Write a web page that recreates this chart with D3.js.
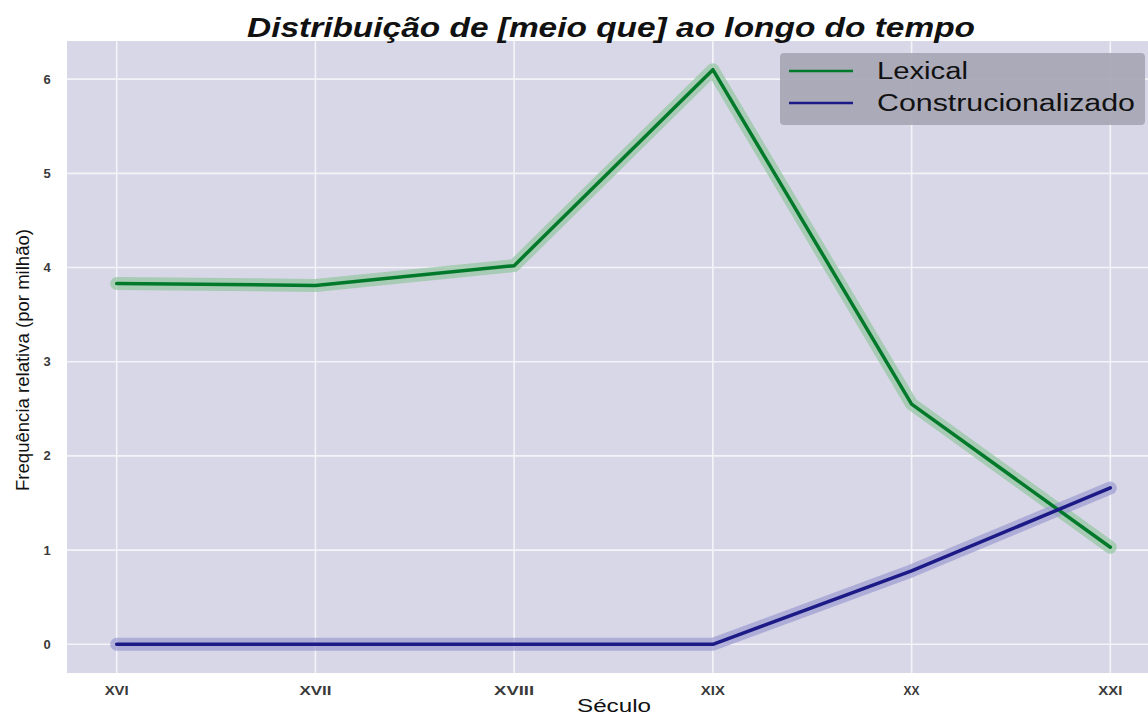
<!DOCTYPE html>
<html>
<head>
<style>
  body { margin: 0; background: #fff; }
  svg { display: block; font-family: "Liberation Sans", Arial, sans-serif; }
</style>
<script src="https://d3js.org/d3.v7.min.js"></script>
</head>
<body>
<script>
var seculos = ["XVI", "XVII", "XVIII", "XIX", "XX", "XXI"];
var lexical = [3.83, 3.81, 4.02, 6.10, 2.55, 1.03];
var construcionalizado = [0, 0, 0, 0, 0.78, 1.66];
var yTicks = [0, 1, 2, 3, 4, 5, 6];
var seriesNames = ["Lexical", "Construcionalizado"];
var seriesColors = ["#007a2a", "#1c1a86"];
var haloColors = ["#93c6a0", "#9d9bd0"];

var W = 1148, H = 718;
var plot = {left: 67, right: 1160, top: 41, bottom: 673};

var svg = d3.select("body").append("svg")
    .attr("width", W).attr("height", H);

var x = d3.scaleLinear().domain([-0.25, 5.25]).range([plot.left, plot.right]);
var y = d3.scaleLinear().domain([-0.305, 6.405]).range([plot.bottom, plot.top]);

svg.append("rect")
    .attr("x", plot.left).attr("y", plot.top)
    .attr("width", plot.right - plot.left).attr("height", plot.bottom - plot.top)
    .attr("fill", "#d8d7e7");

// grid
svg.append("g").selectAll("line").data(seculos).enter().append("line")
    .attr("x1", function(d, i) { return x(i); }).attr("x2", function(d, i) { return x(i); })
    .attr("y1", plot.top).attr("y2", plot.bottom)
    .attr("stroke", "#f4f4f8").attr("stroke-width", 1.6);
svg.append("g").selectAll("line").data(yTicks).enter().append("line")
    .attr("y1", function(d) { return y(d); }).attr("y2", function(d) { return y(d); })
    .attr("x1", plot.left).attr("x2", plot.right)
    .attr("stroke", "#f4f4f8").attr("stroke-width", 1.6);

// tick labels
svg.append("g").selectAll("text").data(seculos).enter().append("text")
    .attr("x", function(d, i) { return x(i); }).attr("y", 695)
    .attr("text-anchor", "middle").attr("font-size", 13).attr("font-weight", "bold")
    .attr("fill", "#3a3a3a").attr("textLength", function(d) { return d.length * 8; })
    .attr("lengthAdjust", "spacingAndGlyphs")
    .text(function(d) { return d; });
svg.append("g").selectAll("text").data(yTicks).enter().append("text")
    .attr("x", 47).attr("y", function(d) { return y(d); }).attr("dy", "0.35em")
    .attr("text-anchor", "middle").attr("font-size", 13).attr("font-weight", "bold")
    .attr("fill", "#3a3a3a")
    .text(function(d) { return d; });

// lines
var line = d3.line()
    .x(function(d, i) { return x(i); })
    .y(function(d) { return y(d); });
var allSeries = [lexical, construcionalizado];

allSeries.forEach(function(s, k) {
  svg.append("path").datum(s)
      .attr("d", line).attr("fill", "none")
      .attr("stroke", haloColors[k]).attr("stroke-opacity", 0.7)
      .attr("stroke-width", 13).attr("stroke-linejoin", "round").attr("stroke-linecap", "round");
});
allSeries.forEach(function(s, k) {
  svg.append("path").datum(s)
      .attr("d", line).attr("fill", "none")
      .attr("stroke", seriesColors[k])
      .attr("stroke-width", 3.5).attr("stroke-linejoin", "round").attr("stroke-linecap", "round");
});

// title and labels
svg.append("text")
    .attr("x", 611).attr("y", 37).attr("text-anchor", "middle")
    .attr("font-size", 27).attr("font-weight", "bold").attr("font-style", "italic")
    .attr("fill", "#111").attr("textLength", 728).attr("lengthAdjust", "spacingAndGlyphs")
    .text("Distribuição de [meio que] ao longo do tempo");
svg.append("text")
    .attr("x", 614).attr("y", 712).attr("text-anchor", "middle")
    .attr("font-size", 18).attr("fill", "#111")
    .attr("textLength", 74).attr("lengthAdjust", "spacingAndGlyphs")
    .text("Século");
svg.append("text")
    .attr("transform", "translate(29,360) rotate(-90)").attr("text-anchor", "middle")
    .attr("font-size", 18).attr("fill", "#111")
    .attr("textLength", 262).attr("lengthAdjust", "spacingAndGlyphs")
    .text("Frequência relativa (por milhão)");

// legend
var legend = svg.append("g").attr("transform", "translate(780,53)");
legend.append("rect")
    .attr("width", 365).attr("height", 72).attr("rx", 4)
    .attr("fill", "#a9a8b6").attr("fill-opacity", 0.95);
var legendWidths = [91, 258];
var items = legend.selectAll("g.item").data(seriesNames).enter().append("g")
    .attr("transform", function(d, i) { return "translate(0," + (18 + i * 32) + ")"; });
items.append("line")
    .attr("x1", 9).attr("x2", 73)
    .attr("stroke", function(d, i) { return seriesColors[i]; }).attr("stroke-width", 2.5);
items.append("text")
    .attr("x", 97).attr("dy", "0.35em").attr("font-size", 23).attr("fill", "#111")
    .attr("textLength", function(d, i) { return legendWidths[i]; })
    .attr("lengthAdjust", "spacingAndGlyphs")
    .text(function(d) { return d; });
</script>
</body>
</html>
